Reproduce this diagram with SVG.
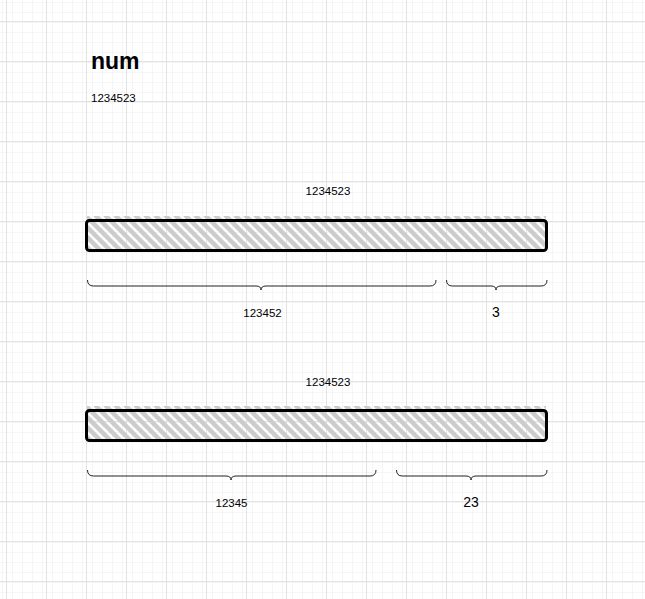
<svg xmlns="http://www.w3.org/2000/svg" width="645" height="599" viewBox="0 0 645 599">
  <defs>
    <pattern id="minor" x="6" y="21" width="10" height="10" patternUnits="userSpaceOnUse">
      <path d="M0.5 0V10M0 0.5H10" stroke="#f5f5f5" stroke-width="1" fill="none"/>
    </pattern>
    <pattern id="major" x="6" y="21" width="40" height="40" patternUnits="userSpaceOnUse">
      <rect width="40" height="40" fill="url(#minor)"/>
      <path d="M0.5 0V40M0 0.5H40" stroke="#e2e2e2" stroke-width="1" fill="none"/>
    </pattern>
    <clipPath id="barclip" clipPathUnits="userSpaceOnUse">
      <rect x="87" y="216" width="459" height="34"/>
    </clipPath>
    <g id="hatchlines" clip-path="url(#barclip)">
      <path fill="none" stroke="#cccccc" stroke-width="4.5" stroke-linecap="round" d="M56 216l34 34M66 216l34 34M76 216l34 34M86 216l34 34M96 216l34 34M106 216l34 34M116 216l34 34M126 216l34 34M136 216l34 34M146 216l34 34M156 216l34 34M166 216l34 34M176 216l34 34M186 216l34 34M196 216l34 34M206 216l34 34M216 216l34 34M226 216l34 34M236 216l34 34M246 216l34 34M256 216l34 34M266 216l34 34M276 216l34 34M286 216l34 34M296 216l34 34M306 216l34 34M316 216l34 34M326 216l34 34M336 216l34 34M346 216l34 34M356 216l34 34M366 216l34 34M376 216l34 34M386 216l34 34M396 216l34 34M406 216l34 34M416 216l34 34M426 216l34 34M436 216l34 34M446 216l34 34M456 216l34 34M466 216l34 34M476 216l34 34M486 216l34 34M496 216l34 34M506 216l34 34M516 216l34 34M526 216l34 34M536 216l34 34M546 216l34 34"/>
    </g>
  </defs>
  <style>
    .t { font-family: "Liberation Sans", Arial, sans-serif; fill: #000; }
    .s { font-size: 11.5px; }
    .m { font-size: 14px; }
    .bar { fill: none; stroke: #000; stroke-width: 3; }
    .brace { fill: none; stroke: #222; stroke-width: 1; }
  </style>
  <rect width="645" height="599" fill="#ffffff"/>
  <rect width="645" height="599" fill="url(#major)"/>

  <g id="title">
    <text class="t" x="91" y="69" font-size="23" font-weight="bold">num</text>
    <text class="t s" x="91" y="102">1234523</text>
  </g>

  <g id="bar1">
    <text class="t s" x="328" y="195" text-anchor="middle">1234523</text>
    <use href="#hatchlines"/>
    <rect class="bar" x="86.5" y="220.5" width="460" height="30" rx="3"/>
  </g>

  <g id="bar2">
    <text class="t s" x="328" y="386" text-anchor="middle">1234523</text>
    <use href="#hatchlines" y="190"/>
    <rect class="bar" x="86.5" y="410.5" width="460" height="30" rx="3"/>
  </g>

  <g id="connectors">
    <path class="brace" d="M87.5 280 q0 6 6 6 H256 q5 0 5 4 q0 -4 5 -4 H430 q6 0 6 -6"/>
    <path class="brace" d="M446.5 280 q0 6 6 6 H491 q5 0 5 4 q0 -4 5 -4 H541 q6 0 6 -6"/>
    <path class="brace" d="M87.5 470 q0 6 6 6 H226 q5 0 5 4 q0 -4 5 -4 H370 q6 0 6 -6"/>
    <path class="brace" d="M396.5 470 q0 6 6 6 H466 q5 0 5 4 q0 -4 5 -4 H541 q6 0 6 -6"/>
  </g>

  <g id="labels1">
    <text class="t s" x="262.5" y="316.5" text-anchor="middle">123452</text>
    <text class="t m" x="496" y="317" text-anchor="middle">3</text>
  </g>
  <g id="labels2">
    <text class="t s" x="231.5" y="506.5" text-anchor="middle">12345</text>
    <text class="t m" x="471" y="507" text-anchor="middle">23</text>
  </g>
</svg>
